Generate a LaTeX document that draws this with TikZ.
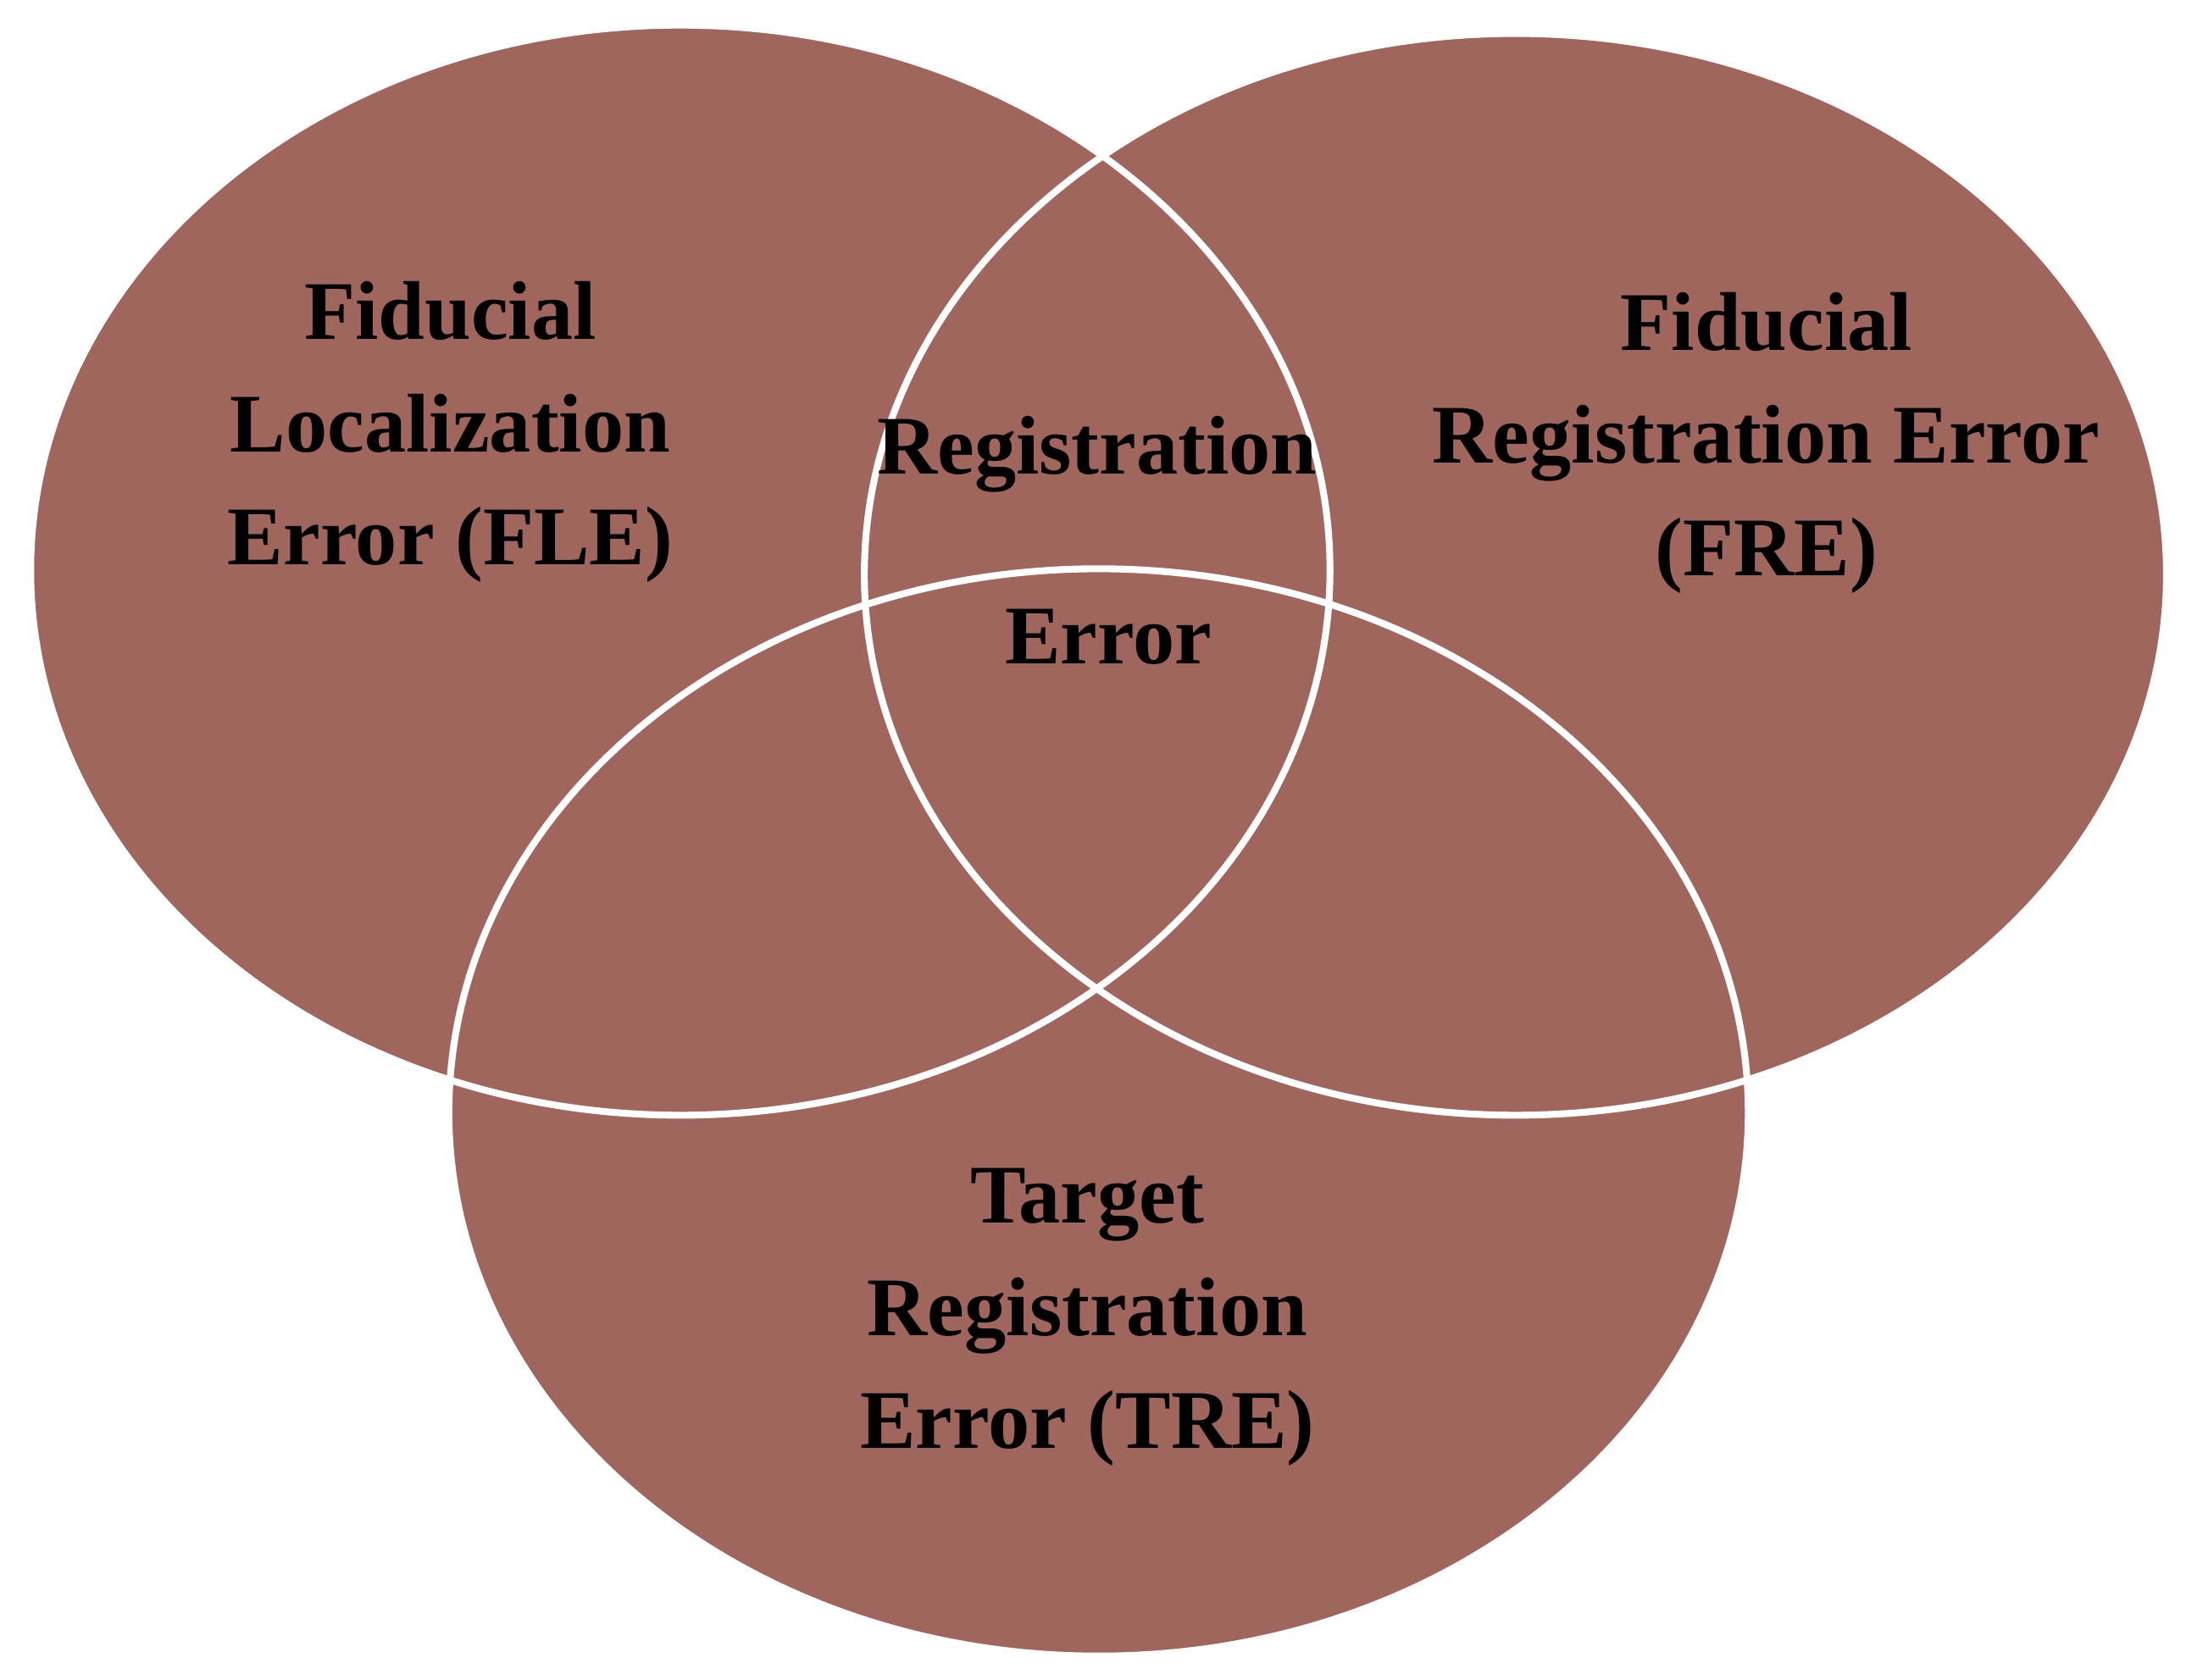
\documentclass[tikz,border=0pt]{standalone}
\usepackage{fontspec}
\setmainfont{Liberation Serif}
\definecolor{fillc}{HTML}{A0665E}
\begin{document}
\begin{tikzpicture}[x=0.01cm,y=-0.01cm,
  lab/.style={align=center,font=\fontsize{17}{23}\selectfont\bfseries,text=black},
  ell/.style={fill=fillc}]
\useasboundingbox (0,0) rectangle (1568,1205);
\fill[white] (0,0) rectangle (1568,1205);
\coordinate (cl) at (488,409);
\coordinate (cr) at (1087,412);
\coordinate (cb) at (788,798);
\fill[ell] (cl) ellipse [x radius=466, y radius=391];
\fill[ell] (cr) ellipse [x radius=467, y radius=388];
\fill[ell] (cb) ellipse [x radius=466, y radius=390];
\draw[white,line width=1.4pt] (cl) ellipse [x radius=466, y radius=391];
\draw[white,line width=1.4pt] (cr) ellipse [x radius=467, y radius=388];
\draw[white,line width=1.4pt] (cb) ellipse [x radius=466, y radius=390];
\node[lab] (fle) at (323,310) {Fiducial\\Localization\\Error (FLE)};
\node[lab] (fre) at (1267,318) {Fiducial\\Registration Error\\(FRE)};
\node[lab] (reg) at (787,326) {Registration};
\node[lab] (err) at (795,457) {Error};
\node[lab] (tre) at (780,945) {Target\\Registration\\Error (TRE)};
\end{tikzpicture}
\end{document}
